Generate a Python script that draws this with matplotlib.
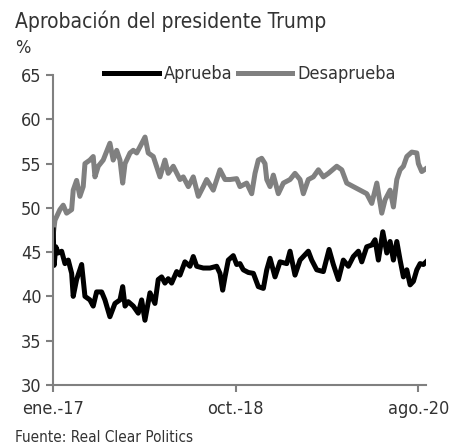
import matplotlib
matplotlib.use("Agg")
import matplotlib.pyplot as plt

plt.rcParams['font.family'] = ['DejaVu Sans']
plt.rcParams['font.stretch'] = 'condensed'

# meses desde enero 2017
GRAY_X = [0.0, 0.2, 0.77, 1.15, 1.54, 2.12, 2.3, 2.69, 3.07, 3.45, 3.65, 4.22, 4.6, 4.8,
          5.18, 5.75, 6.52, 6.9, 7.3, 7.68, 7.99, 8.26, 8.83, 9.21, 9.6, 9.98, 10.56,
          10.93, 11.51, 12.28, 12.85, 13.23, 13.81, 14.58, 14.96, 15.54, 16.11, 16.69,
          17.26, 17.65, 18.41, 19.18, 19.76, 20.33, 21.1, 21.48, 22.25, 22.83, 23.21,
          23.59, 23.98, 24.36, 24.56, 24.94, 25.32, 25.89, 26.47, 27.24, 27.81, 28.39,
          28.77, 29.34, 29.92, 30.5, 31.07, 31.65, 32.61, 33.19, 33.76, 34.52, 35.29,
          36.06, 36.64, 37.22, 37.79, 38.17, 38.75, 39.13, 39.52, 39.9, 40.28, 40.67,
          41.24, 41.82, 42.0, 42.39, 42.97]
DESAPRUEBA = [47.0, 48.6, 49.8, 50.3, 49.4, 49.8, 52.0, 53.1, 51.3, 52.4, 55.0, 55.4, 55.8, 53.5,
              54.7, 55.4, 57.3, 55.4, 56.5, 55.4, 52.8, 55.0, 56.2, 56.5, 56.2, 56.9, 58.0,
              56.2, 55.8, 53.5, 55.4, 53.9, 54.7, 53.2, 53.5, 52.4, 53.5, 51.3,
              52.4, 53.2, 52.0, 54.3, 53.2, 53.2, 53.3, 52.4, 52.8, 51.6, 53.9,
              55.4, 55.6, 55.0, 53.2, 52.4, 53.7, 51.6, 52.8, 53.2, 53.9, 53.2,
              51.6, 53.2, 53.5, 54.3, 53.5, 53.9, 54.7, 54.3, 52.8, 52.4, 52.0,
              51.6, 50.5, 52.8, 49.4, 50.9, 52.0, 50.1, 53.2, 54.3, 54.7, 55.8,
              56.3, 56.2, 55.0, 54.1, 54.5]

BLACK_X = [0.0, 0.1, 0.3, 0.58, 0.97, 1.35, 1.73, 2.12, 2.3, 2.69, 3.27, 3.65, 4.22, 4.6,
           4.99, 5.57, 5.95, 6.52, 7.1, 7.68, 7.99, 8.26, 8.63, 9.21, 9.78, 10.17, 10.55,
           11.13, 11.7, 12.08, 12.47, 12.85, 13.23, 13.62, 14.2, 14.58, 15.15, 15.73,
           16.11, 16.5, 17.26, 18.03, 18.8, 19.18, 19.49, 19.76, 20.14, 20.71, 21.1,
           21.48, 21.86, 22.44, 23.02, 23.59, 24.17, 24.56, 24.94, 25.51, 26.09, 26.86,
           27.24, 27.81, 28.39, 29.34, 29.73, 30.31, 31.07, 31.73, 32.22, 32.8, 33.37,
           33.95, 34.52, 35.1, 35.49, 36.06, 36.64, 37.02, 37.4, 37.91, 38.37, 38.75,
           39.13, 39.52, 39.9, 40.28, 40.67, 41.05, 41.43, 41.82, 42.2, 42.58, 42.89]
APRUEBA = [47.5, 43.5, 45.6, 44.9, 45.1, 43.7, 44.1, 42.6, 40.0, 41.9, 43.6, 40.0, 39.6, 38.9,
           40.5, 40.5, 39.6, 37.7, 39.2, 39.6, 41.1, 38.9, 39.4, 38.9, 38.1, 39.6, 37.3,
           40.4, 39.2, 41.9, 42.2, 41.5, 42.0, 41.5, 42.8, 42.4, 43.9, 43.4,
           44.5, 43.4, 43.2, 43.2, 43.4, 42.6, 40.7, 42.2, 44.1, 44.6, 43.6,
           43.7, 43.0, 42.7, 42.6, 41.1, 40.9, 43.0, 44.3, 42.2, 43.9, 43.7,
           45.1, 42.4, 44.1, 45.1, 44.1, 43.0, 42.8, 45.3, 43.6, 41.9, 44.1,
           43.4, 44.5, 45.1, 43.9, 45.6, 45.8, 46.4, 44.1, 47.3, 44.9, 46.2,
           44.1, 46.2, 44.1, 42.2, 43.0, 41.3, 41.7, 43.0, 43.7, 43.6, 43.9]

TICK_POS = [0, 21, 42]
TICK_LABELS = ["ene.-17", "oct.-18", "ago.-20"]

TXT = '#333333'
AX_C = '#808080'

fig = plt.figure(figsize=(4.51, 4.47), dpi=100)
ax = fig.add_axes([0.118, 0.139, 0.827, 0.693])

ax.plot(GRAY_X, DESAPRUEBA, color='#808080', lw=3.6, label='Desaprueba', solid_joinstyle='round')
ax.plot(BLACK_X, APRUEBA, color='black', lw=3.6, label='Aprueba', solid_joinstyle='round')

ax.set_xlim(0, 42.9)
ax.set_ylim(30, 65)
ax.set_yticks(range(30, 66, 5))
ax.set_xticks(TICK_POS)
ax.set_xticklabels(TICK_LABELS)

for s in ['top', 'right']:
    ax.spines[s].set_visible(False)
for s in ['left', 'bottom']:
    ax.spines[s].set_color(AX_C)
    ax.spines[s].set_linewidth(1.5)
ax.tick_params(colors=AX_C, width=1.5, length=5, labelcolor=TXT, labelsize=13)
ax.tick_params(axis='x', pad=6)

h, l = ax.get_legend_handles_labels()
fig.legend([h[1], h[0]], [l[1], l[0]], loc='center', bbox_to_anchor=(0.555, 0.834),
           ncol=2, frameon=False, fontsize=13, handlelength=3.0, handletextpad=0.3,
           columnspacing=0.3, labelcolor=TXT)

fig.text(0.033, 0.952, "Aprobación del presidente Trump", fontsize=15, color=TXT, va='center')
fig.text(0.033, 0.893, "%", fontsize=13, color=TXT, va='center')
fig.text(0.033, 0.022, "Fuente: Real Clear Politics", fontsize=11, color=TXT, va='center')

fig.savefig("out.png", dpi=100)
